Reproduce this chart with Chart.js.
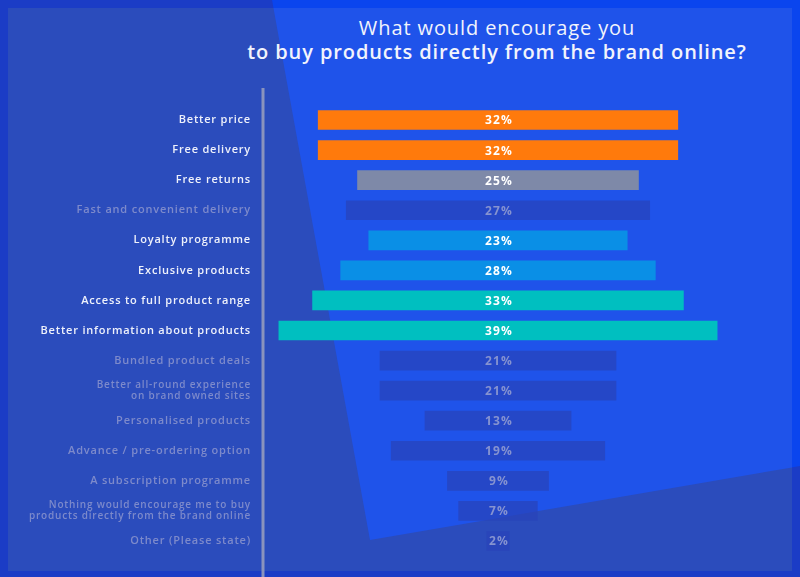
<!DOCTYPE html>
<html>
<head>
<meta charset="utf-8">
<script src="https://cdn.jsdelivr.net/npm/chart.js@4"></script>
<style>
    html, body { margin: 0; padding: 0; }
    body { width: 800px; height: 577px; position: relative; overflow: hidden; background: #1b3cc6; font-family: 'Open Sans', sans-serif; }
    .frame-bright { position: absolute; left: 0; top: 0; width: 800px; height: 577px; background: #0a45ee;
        clip-path: polygon(272px 0, 800px 0, 800px 466px, 370px 540px); }
    .inner { position: absolute; left: 8px; top: 8px; width: 784px; height: 563px; background: #2b4cbc; overflow: hidden; }
    .inner-bright { position: absolute; left: -8px; top: -8px; width: 800px; height: 577px; background: #1f53ea;
        clip-path: polygon(272px 0, 800px 0, 800px 466px, 370px 540px); }
    .title { position: absolute; left: 197px; width: 600px; text-align: center; color: #f2f4fc; font-size: 20px; white-space: nowrap; }
    .t1 { top: 14px; font-weight: 400; letter-spacing: 0.9px; }
    .t2 { top: 38px; font-weight: 600; letter-spacing: 0.9px; }
    #wrap { position: absolute; left: 0; top: 0; width: 800px; height: 577px; }
</style>
</head>
<body>
<div class="frame-bright"></div>
<div class="inner"><div class="inner-bright"></div></div>
<div class="title t1">What would encourage you</div>
<div class="title t2">to buy products directly from the brand online?</div>
<div id="wrap"><canvas id="chart" width="800" height="577"></canvas></div>

<script>
// Data
const categories = [
    'Better price',
    'Free delivery',
    'Free returns',
    'Fast and convenient delivery',
    'Loyalty programme',
    'Exclusive products',
    'Access to full product range',
    'Better information about products',
    'Bundled product deals',
    ['Better all-round experience', 'on brand owned sites'],
    'Personalised products',
    'Advance / pre-ordering option',
    'A subscription programme',
    ['Nothing would encourage me to buy', 'products directly from the brand online'],
    'Other (Please state)'
];
const values = [32, 32, 25, 27, 23, 28, 33, 39, 21, 21, 13, 19, 9, 7, 2];
// which answers are highlighted in the original graphic
const highlighted = [true, true, true, false, true, true, true, true, false, false, false, false, false, false, false];

// Styles
const barColors = ['#ff7a0c', '#ff7a0c', '#7e89a8', null, '#0a8fe6', '#0a8fe6', '#00bfc0', '#00bfc0'];
const mutedBar = 'rgba(40, 66, 186, 0.72)';
const labelOn = '#eef1fb';
const labelOff = '#7d8acb';

function barColor(i) {
    return highlighted[i] ? barColors[i] : mutedBar;
}

// bars are centred on zero
const floating = values.map(v => [-v / 2, v / 2]);

// wider lettering, like the original typeface
const spacing = {
    id: 'spacing',
    beforeDraw(chart) { chart.ctx.letterSpacing = '0.8px'; }
};

const valueLabels = {
    id: 'valueLabels',
    afterDatasetsDraw(chart) {
        const ctx = chart.ctx;
        const meta = chart.getDatasetMeta(0);
        ctx.save();
        ctx.letterSpacing = '1.2px';
        ctx.font = 'bold 12px "Open Sans"';
        ctx.textAlign = 'center';
        ctx.textBaseline = 'middle';
        meta.data.forEach((bar, i) => {
            ctx.fillStyle = highlighted[i] ? '#ffffff' : '#8693d0';
            ctx.fillText(values[i] + '%', (bar.x + bar.base) / 2 + 1, bar.y + 1);
        });
        ctx.restore();
    }
};

const axisLine = {
    id: 'axisLine',
    beforeDatasetsDraw(chart) {
        const ctx = chart.ctx;
        const a = chart.chartArea;
        ctx.save();
        ctx.strokeStyle = '#8a93bd';
        ctx.lineWidth = 3;
        ctx.beginPath();
        ctx.moveTo(a.left + 1, a.top - 17);
        ctx.lineTo(a.left + 1, chart.height);
        ctx.stroke();
        ctx.restore();
    }
};

new Chart(document.getElementById('chart'), {
    type: 'bar',
    data: {
        labels: categories,
        datasets: [{
            data: floating,
            backgroundColor: values.map((v, i) => barColor(i)),
            borderWidth: 0,
            barThickness: 19
        }]
    },
    options: {
        indexAxis: 'y',
        responsive: false,
        animation: false,
        layout: { padding: { top: 105, bottom: 21, right: 66, left: 0 } },
        plugins: {
            legend: { display: false },
            tooltip: { enabled: false }
        },
        scales: {
            x: { min: -21, max: 21, display: false },
            y: {
                grid: { display: false, drawTicks: false },
                border: { display: false },
                afterFit: (scale) => { scale.width = 262; },
                ticks: {
                    padding: 11,
                    font: (c) => ({
                        size: Array.isArray(categories[c.index]) ? 10 : 11,
                        weight: '600',
                        family: 'Open Sans',
                        lineHeight: 1.15
                    }),
                    color: (c) => highlighted[c.index] ? labelOn : labelOff
                }
            }
        }
    },
    plugins: [spacing, axisLine, valueLabels]
});
</script>
</body>
</html>
